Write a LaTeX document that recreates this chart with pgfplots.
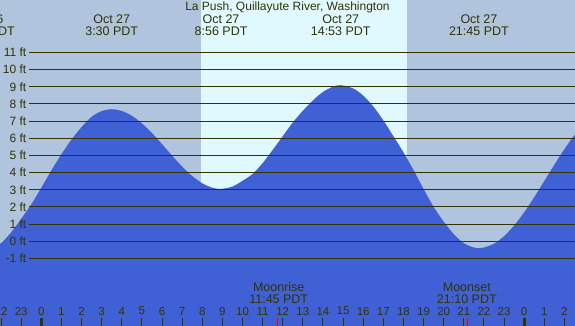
\documentclass[border=0pt]{standalone}
\usepackage{pgfplots}
\pgfplotsset{compat=1.18}
\usepackage{fontspec}
\setmainfont{Liberation Sans}
\definecolor{night}{RGB}{176,196,222}
\definecolor{day}{RGB}{224,248,255}
\definecolor{tide}{RGB}{64,96,214}
\definecolor{txt}{RGB}{51,51,0}
\begin{document}
\begin{tikzpicture}
\begin{axis}[name=ax, width=575pt, height=326pt, scale only axis,
  xmin=-2.0527, xmax=26.526, ymin=-4.93, ymax=14.05, hide axis, clip=true]
% night background and day band
\addplot[fill=night, draw=none] coordinates {(-3,-6) (28,-6) (28,15) (-3,15)} -- cycle;
\addplot[fill=day, draw=none] coordinates {(7.96,-6) (18.16,-6) (18.16,15) (7.96,15)} -- cycle;
% tide curve
\addplot[fill=tide, draw=none, smooth] coordinates {
(-2.6,-0.3) (-2.3,-0.24) (-2.0,-0.11) (-1.5,0.52) (-1.0,1.31) (-0.5,2.15) (0,3.12)
(0.5,4.13) (1.0,5.07) (1.5,5.92) (2.0,6.65) (2.5,7.25) (3.0,7.58) (3.5,7.69)
(4.0,7.59) (4.5,7.31) (5.0,6.87) (5.5,6.30) (6.0,5.66) (6.5,4.99) (7.0,4.35)
(7.5,3.80) (8.0,3.38) (8.5,3.12) (8.93,3.05) (9.5,3.19) (10.0,3.52) (10.5,3.92)
(11.0,4.55) (11.5,5.32) (12.0,6.12) (12.5,6.92) (13.0,7.6) (13.5,8.2) (14.0,8.7)
(14.5,9.0) (14.883,9.09) (15.5,8.90) (16.0,8.48) (16.5,7.85) (17.0,7.04) (17.5,6.12)
(18.0,5.18) (18.5,4.15) (19.0,3.05) (19.5,2.0) (20.0,1.15) (20.5,0.42) (21.0,-0.11)
(21.5,-0.36) (21.75,-0.39) (22.0,-0.36) (22.5,-0.14) (23.0,0.30) (23.5,0.92)
(24.0,1.69) (24.5,2.57) (25.0,3.51) (25.5,4.46) (26.0,5.37) (26.5,6.18) (27.0,6.85)}
 -- (axis cs:27,-6) -- (axis cs:-2.6,-6) -- cycle;
% horizontal ft lines
\pgfplotsinvokeforeach{-1,0,...,11}{
  \addplot[color=txt, line width=1pt] coordinates {(-0.611,#1) (27,#1)};
  \node[anchor=east, inner sep=0, text=txt, font=\fontsize{12}{14}\selectfont] at (axis cs:-0.74,#1) {#1 ft};
}
% top labels
\node[text=txt, inner sep=0, font=\fontsize{12}{14}\selectfont] at (axis cs:12.235,13.62) {La Push, Quillayute River, Washington};
\node[text=txt, inner sep=0, align=center, font=\fontsize{12.5}{12}\selectfont] at (axis cs:-2.8,12.58) {Oct 26\\21:12 PDT};
\node[text=txt, inner sep=0, align=center, font=\fontsize{12.5}{12}\selectfont] at (axis cs:3.5,12.58) {Oct 27\\3:30 PDT};
\node[text=txt, inner sep=0, align=center, font=\fontsize{12.5}{12}\selectfont] at (axis cs:8.933,12.58) {Oct 27\\8:56 PDT};
\node[text=txt, inner sep=0, align=center, font=\fontsize{12.5}{12}\selectfont] at (axis cs:14.883,12.58) {Oct 27\\14:53 PDT};
\node[text=txt, inner sep=0, align=center, font=\fontsize{12.5}{12}\selectfont] at (axis cs:21.75,12.58) {Oct 27\\21:45 PDT};
% moon labels
\node[text=txt, inner sep=0, align=center, font=\fontsize{12.5}{12}\selectfont] at (axis cs:11.8,-3.0) {Moonrise\\11:45 PDT};
\node[text=txt, inner sep=0, align=center, font=\fontsize{12.5}{12}\selectfont] at (axis cs:21.15,-3.0) {Moonset\\21:10 PDT};
% hour ticks and labels
\pgfplotsinvokeforeach{-2,-1,...,26}{
  \draw[txt, line width=1pt] (axis cs:#1,-4.93) -- (axis cs:#1,-4.47);
  \node[text=txt, inner sep=0, font=\fontsize{11.5}{12}\selectfont] at (axis cs:#1,-4.06) {\pgfmathtruncatemacro\lab{mod(#1+24,24)}\lab};
}
\draw[txt, line width=3pt] (axis cs:0,-4.93) -- (axis cs:0,-4.47);
\draw[txt, line width=3pt] (axis cs:24,-4.93) -- (axis cs:24,-4.47);
\draw[red, line width=1pt] (axis cs:11.75,-4.93) -- (axis cs:11.75,-4.47);
\draw[red, line width=1pt] (axis cs:21.167,-4.93) -- (axis cs:21.167,-4.47);
\end{axis}
\pgfresetboundingbox
\useasboundingbox (ax.south west) rectangle (ax.north east);
\end{tikzpicture}
\end{document}
